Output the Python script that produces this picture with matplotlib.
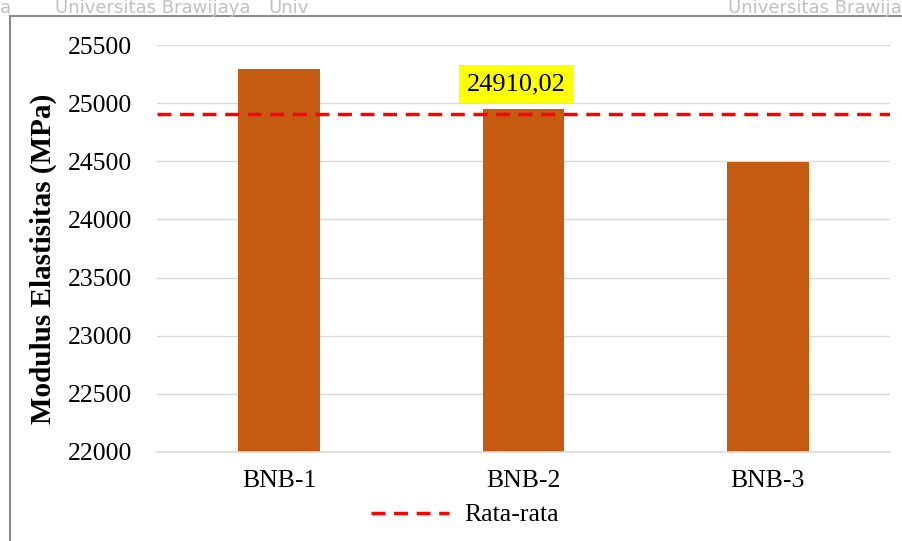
import numpy as np
import matplotlib.pyplot as plt
from matplotlib.patches import Rectangle

# data
samples = ['BNB-1', 'BNB-2', 'BNB-3']
modulus = [25290, 24950, 24490]
rata_rata = 24910.02
y_ticks = [22000, 22500, 23000, 23500, 24000, 24500, 25000, 25500]

plt.rcParams['font.family'] = ['Liberation Serif', 'DejaVu Serif']

fig = plt.figure(figsize=(9.02, 5.41), dpi=100)
W, H = 902, 541
ax = fig.add_axes([157 / W, 1 - 452 / H, (890 - 157) / W, (452 - 45) / H])

x = np.arange(len(samples))
ax.bar(x, modulus, width=0.335, color='#c55a11', zorder=2)
ax.axhline(rata_rata, color='#ff0000', lw=2.5, ls=(0, (4, 2.5)), zorder=3, label='Rata-rata')

ax.set_ylim(22000, 25500)
ax.set_xlim(-0.5, 2.5)
ax.set_yticks(y_ticks)
ax.set_yticklabels([str(v) for v in y_ticks], fontsize=18.5)
ax.set_xticks(x)
ax.set_xticklabels(samples, fontsize=18.5)
ax.tick_params(length=0, pad=18)
ax.tick_params(axis='x', pad=13)
ax.grid(axis='y', color='#d9d9d9', lw=1, zorder=0)
for s in ['top', 'right', 'left']:
    ax.spines[s].set_visible(False)
ax.spines['bottom'].set_color('#d9d9d9')
ax.spines['bottom'].set_linewidth(1.2)

ax.set_ylabel('Modulus Elastisitas (MPa)', fontsize=21, fontweight='bold')
ax.yaxis.set_label_coords(-0.137, 0.475)

ax.text(x[1] - 0.03, 25165, f'{rata_rata:.2f}'.replace('.', ','), fontsize=19,
        ha='center', va='center', zorder=4,
        bbox=dict(boxstyle='square,pad=0.3', fc='#ffff00', ec='none'))

fig.legend(loc='center', bbox_to_anchor=(465 / W, 1 - 515 / H), frameon=False,
           fontsize=18.5, handlelength=3.0, handletextpad=0.6)

# chart frame and scanned watermark
fig.patches.append(Rectangle((10 / W, -0.01), 1, 1 - 16 / H + 0.01, transform=fig.transFigure,
                             fill=False, ec='#8c8c8c', lw=1.5))
wm = dict(color='#c0c0c0', fontsize=13, family='DejaVu Sans', va='center')
fig.text(0, 1 - 8 / H, 'a', ha='left', **wm)
fig.text(55 / W, 1 - 8 / H, 'Universitas Brawijaya', ha='left', **wm)
fig.text(268 / W, 1 - 8 / H, 'Univ', ha='left', **wm)
fig.text(902 / W, 1 - 8 / H, 'Universitas Brawija', ha='right', **wm)

fig.savefig('out.png', dpi=100)
